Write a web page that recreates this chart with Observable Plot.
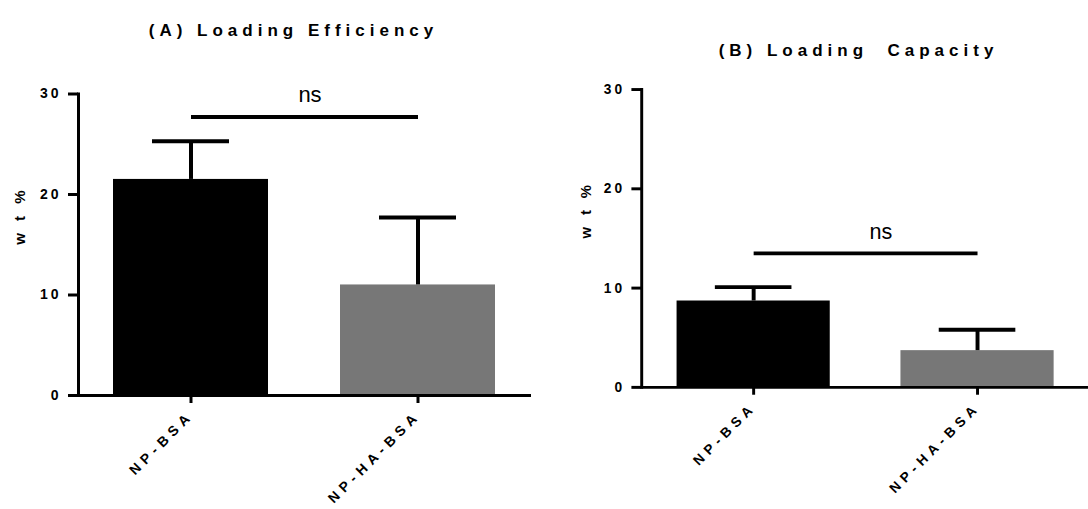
<!DOCTYPE html>
<html>
<head>
<meta charset="utf-8">
<script src="https://cdn.jsdelivr.net/npm/d3@7"></script>
<script src="https://cdn.jsdelivr.net/npm/@observablehq/plot@0.6"></script>
<style>
  body { margin: 0; background: #fff; }
  #wrap { position: relative; width: 1088px; height: 509px; overflow: hidden; font-family: "Liberation Sans", Arial, sans-serif; color: #000; }
  .panel { position: absolute; top: 0; }
  .title { position: absolute; font-weight: bold; font-size: 17px; line-height: 17px; letter-spacing: 5px; padding-left: 5px; white-space: pre; transform: translateX(-50%); }
</style>
</head>
<body>
<div id="wrap"></div>
<script>
// ---- data ----
const categories = ["NP-BSA", "NP-HA-BSA"];
const barColors = ["#000000", "#777777"];
const efficiencyMean = [21.5, 11.0];
const efficiencySD = [3.8, 6.7];
const capacityMean = [8.7, 3.7];
const capacitySD = [1.4, 2.1];
const sigEfficiency = 27.7;
const sigCapacity = 13.5;
const yTicks = [0, 10, 20, 30];
const titles = ["(A) Loading Efficiency", "(B) Loading  Capacity"];
const yLabel = "w t %";
const sigLabel = "ns";

const FONT = "'Liberation Sans', Arial, sans-serif";

function makePanel(mean, sd, sig, cfg) {
  const data = categories.map((c, i) => ({cat: c, mean: mean[i], sd: sd[i], color: barColors[i]}));
  const svg = Plot.plot({
    width: cfg.width,
    height: 509,
    marginLeft: cfg.marginLeft,
    marginRight: cfg.marginRight,
    marginTop: cfg.marginTop,
    marginBottom: cfg.marginBottom,
    style: {fontFamily: FONT, background: "transparent", color: "#000", overflow: "visible"},
    x: {domain: categories, paddingInner: 0.317, paddingOuter: 0.156, label: null},
    y: {domain: [0, 30], label: null},
    color: {type: "identity"},
    marks: [
      Plot.barY(data, {x: "cat", y: "mean", fill: "color"}),
      Plot.ruleX(data, {x: "cat", y1: "mean", y2: d => d.mean + d.sd, strokeWidth: 4}),
      Plot.tickY(data, {x: "cat", y: d => d.mean + d.sd, strokeWidth: 4, insetLeft: 39, insetRight: 39}),
      Plot.frame({anchor: "left", strokeWidth: 3}),
      Plot.ruleY([0], {strokeWidth: 3}),
      Plot.axisY(yTicks, {tickSize: 10, tickPadding: 7, strokeWidth: 3, label: null}),
      Plot.axisX({tickSize: 8, strokeWidth: 3, tickRotate: -45, tickPadding: 10, label: null}),
      Plot.link([sig], {x1: () => categories[0], x2: () => categories[1], y1: d => d, y2: d => d, strokeWidth: 4}),
      Plot.text([sigLabel], {y: () => sig, dy: -22, dx: cfg.nsDx, fontSize: 22, text: d => d}),
      Plot.text([yLabel], {frameAnchor: "left", rotate: -90, dx: cfg.labelDx, fontSize: 15, fontWeight: "bold", text: d => d})
    ]
  });
  const s = d3.select(svg);
  s.selectAll('g[aria-label="y-axis tick label"], g[aria-label="y-axis tick label"] text')
    .style("font-size", "14px").style("font-weight", "bold").style("letter-spacing", "3px");
  s.selectAll('g[aria-label="x-axis tick label"], g[aria-label="x-axis tick label"] text')
    .style("font-size", "14px").style("font-weight", "bold").style("letter-spacing", "5px");
  s.selectAll("text").filter(function () { return this.textContent === yLabel; })
    .style("letter-spacing", "4px").style("font-size", "15px").style("font-weight", "bold");
  return svg;
}

const wrap = document.getElementById("wrap");

const panels = [
  {mean: efficiencyMean, sd: efficiencySD, sig: sigEfficiency, left: 0,
   cfg: {width: 544, marginLeft: 78, marginRight: 13, marginTop: 93.5, marginBottom: 114, nsDx: 5, labelDx: -58},
   title: {x: 291, top: 22}},
  {mean: capacityMean, sd: capacitySD, sig: sigCapacity, left: 544,
   cfg: {width: 554, marginLeft: 99, marginRight: 0, marginTop: 90.7, marginBottom: 115, nsDx: 16, labelDx: -56},
   title: {x: 856, top: 42}}
];

panels.forEach((p, i) => {
  const div = document.createElement("div");
  div.className = "panel";
  div.style.left = p.left + "px";
  div.appendChild(makePanel(p.mean, p.sd, p.sig, p.cfg));
  wrap.appendChild(div);
  const t = document.createElement("div");
  t.className = "title";
  t.style.left = p.title.x + "px";
  t.style.top = p.title.top + "px";
  t.textContent = titles[i];
  wrap.appendChild(t);
});
</script>
</body>
</html>
